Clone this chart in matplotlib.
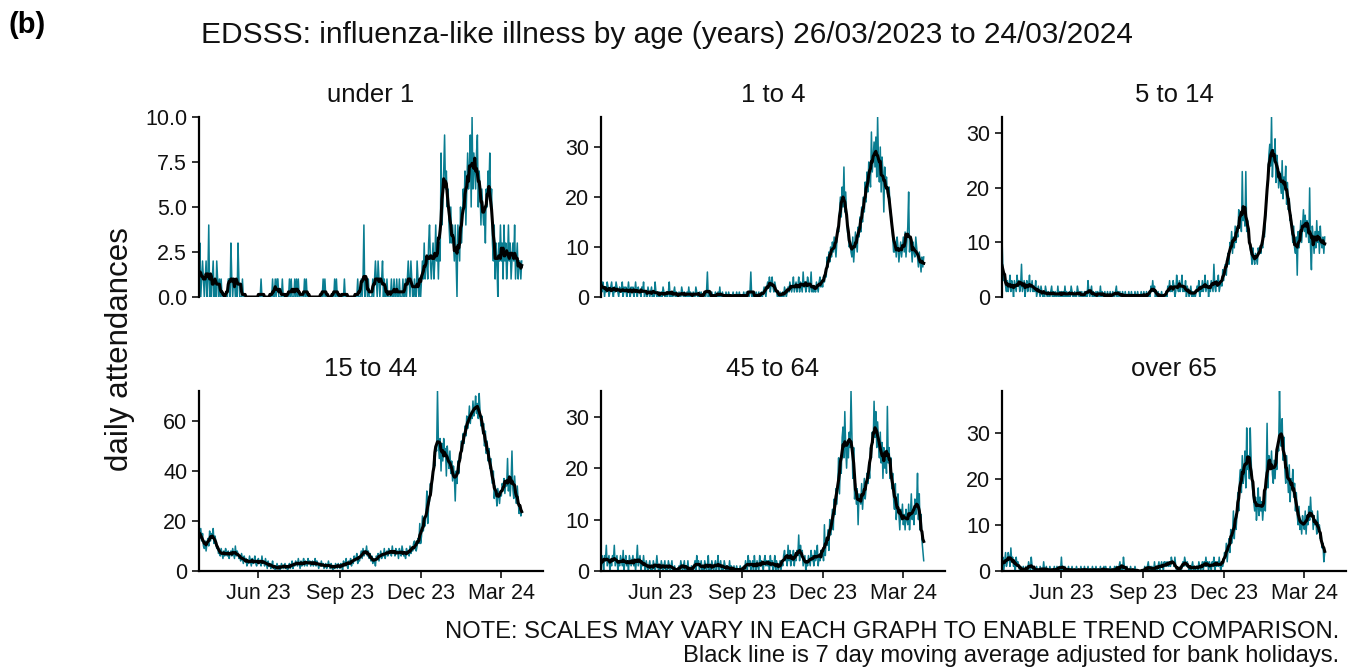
import matplotlib
matplotlib.use('Agg')
import matplotlib.pyplot as plt
import matplotlib.dates as mdates
from matplotlib.ticker import FormatStrFormatter
import pandas as pd

plt.rcParams['font.family'] = ['Liberation Sans', 'DejaVu Sans']

# daily counts 26/03/2023 .. 24/03/2024, one row per month (Mar part, Apr .. Feb, Mar part)
under_1 = (
    [1, 3, 0, 1, 2, 1]
    + [0, 1, 2, 0, 1, 4, 0, 1, 0, 1, 2, 0, 1, 0, 2, 1, 0, 1, 0, 1, 0, 0, 0, 0, 0, 0, 0, 1, 1, 0]
    + [3, 1, 0, 1, 1, 0, 1, 0, 3, 1, 0, 0, 0, 1, 0, 0, 0, 0, 0, 0, 0, 0, 0, 0, 0, 0, 0, 0, 0, 0, 0]
    + [0, 0, 0, 1, 0, 0, 0, 0, 0, 0, 0, 0, 0, 0, 0, 0, 1, 0, 0, 1, 0, 1, 1, 0, 0, 0, 0, 1, 0, 0]
    + [0, 0, 0, 0, 0, 1, 0, 1, 0, 0, 0, 1, 0, 1, 0, 1, 0, 0, 0, 0, 0, 0, 1, 0, 1, 0, 0, 0, 0, 0, 0]
    + [0, 0, 0, 0, 0, 0, 0, 0, 0, 0, 0, 0, 1, 0, 1, 0, 0, 0, 0, 0, 0, 0, 0, 0, 0, 1, 0, 1, 0, 0, 0]
    + [0, 0, 0, 0, 0, 1, 0, 0, 0, 0, 0, 0, 0, 0, 0, 0, 0, 0, 0, 0, 1, 0, 0, 0, 1, 0, 1, 4, 0, 1]
    + [1, 0, 1, 0, 0, 0, 0, 1, 0, 1, 2, 1, 0, 2, 1, 0, 1, 1, 2, 0, 1, 0, 0, 1, 0, 0, 0, 0, 1, 0, 0]
    + [1, 0, 0, 1, 0, 0, 1, 0, 0, 0, 1, 0, 0, 1, 0, 1, 2, 1, 0, 2, 1, 0, 0, 1, 0, 0, 2, 1, 0, 1]
    + [0, 1, 2, 1, 3, 1, 2, 2, 1, 3, 4, 2, 1, 2, 3, 1, 2, 4, 2, 3, 1, 3, 2, 8, 4, 5, 7, 9, 6, 7, 5]
    + [6, 4, 3, 5, 3, 4, 3, 2, 4, 2, 0, 4, 3, 2, 5, 3, 4, 6, 5, 7, 4, 6, 8, 6, 7, 9, 5, 10, 6, 8, 7]
    + [6, 8, 9, 5, 7, 6, 4, 6, 5, 4, 5, 3, 6, 5, 7, 6, 8, 5, 6, 3, 2, 4, 1, 3, 2, 0, 3, 2, 4]
    + [2, 3, 1, 4, 2, 3, 1, 2, 4, 2, 3, 1, 2, 3, 2, 4, 1, 2, 3, 1, 2, 2, 1, 2]
)
age_1_4 = (
    [4, 1, 3, 2, 0, 2]
    + [1, 3, 2, 0, 1, 2, 3, 1, 0, 2, 1, 3, 2, 1, 0, 2, 1, 1, 3, 0, 2, 1, 2, 0, 1, 3, 1, 0, 2, 1]
    + [2, 0, 1, 3, 1, 0, 2, 1, 1, 0, 2, 1, 3, 0, 1, 1, 0, 2, 1, 0, 1, 2, 0, 1, 0, 3, 1, 0, 1, 0, 1]
    + [0, 1, 0, 2, 1, 0, 0, 1, 0, 1, 3, 0, 1, 0, 0, 1, 2, 0, 1, 0, 0, 1, 0, 0, 2, 1, 0, 1, 0, 0]
    + [1, 0, 2, 0, 1, 0, 0, 1, 0, 0, 2, 1, 0, 0, 1, 0, 1, 0, 0, 0, 1, 0, 1, 5, 0, 1, 0, 0, 1, 0, 0]
    + [0, 1, 0, 0, 1, 0, 2, 0, 0, 1, 0, 0, 0, 1, 0, 0, 1, 0, 0, 0, 0, 1, 0, 0, 0, 1, 0, 0, 1, 0, 0]
    + [0, 0, 1, 0, 0, 1, 0, 0, 0, 1, 5, 0, 1, 0, 0, 0, 1, 0, 0, 1, 0, 0, 1, 0, 1, 2, 1, 0, 2, 3]
    + [2, 4, 1, 3, 4, 2, 1, 3, 2, 1, 0, 1, 0, 1, 0, 0, 1, 0, 2, 1, 0, 1, 2, 1, 3, 2, 1, 2, 4, 1, 2]
    + [3, 1, 2, 4, 1, 3, 2, 1, 5, 2, 3, 1, 2, 4, 3, 1, 2, 5, 1, 2, 1, 2, 1, 3, 2, 1, 3, 4, 2, 3]
    + [2, 4, 3, 5, 4, 8, 6, 9, 7, 10, 8, 11, 9, 12, 10, 8, 11, 14, 13, 17, 20, 16, 22, 18, 26, 17, 21, 16, 13, 12, 10]
    + [11, 9, 8, 12, 7, 10, 13, 11, 9, 14, 12, 16, 13, 18, 15, 20, 17, 23, 19, 25, 21, 27, 24, 22, 33, 25, 28, 31, 26, 32, 24]
    + [36, 27, 23, 30, 21, 28, 25, 17, 26, 22, 24, 21, 20, 22, 18, 17, 15, 12, 9, 9, 11, 8, 12, 10, 7, 9, 11, 8, 10]
    + [12, 9, 13, 8, 11, 14, 21, 9, 12, 10, 7, 11, 9, 8, 12, 10, 8, 6, 9, 7, 5, 8, 6, 8]
)
age_5_14 = (
    [11, 5, 3, 4, 2, 1]
    + [3, 1, 2, 4, 1, 3, 2, 0, 3, 2, 1, 4, 2, 3, 1, 2, 6, 1, 2, 3, 0, 2, 3, 1, 2, 4, 1, 2, 3, 1]
    + [2, 1, 3, 0, 1, 2, 1, 0, 2, 1, 0, 1, 0, 2, 1, 0, 1, 0, 0, 1, 2, 0, 1, 0, 1, 0, 0, 2, 0, 1, 0]
    + [1, 0, 1, 0, 2, 0, 1, 0, 0, 1, 0, 2, 1, 0, 0, 1, 0, 0, 2, 1, 0, 1, 0, 1, 0, 0, 1, 0, 1, 0]
    + [3, 1, 0, 1, 2, 0, 1, 0, 0, 1, 0, 1, 0, 0, 2, 0, 1, 0, 0, 1, 0, 0, 1, 0, 0, 1, 0, 0, 1, 0, 0]
    + [1, 2, 0, 1, 0, 1, 0, 0, 1, 0, 0, 1, 0, 0, 0, 1, 0, 0, 1, 0, 0, 0, 1, 0, 0, 1, 0, 0, 0, 1, 0]
    + [0, 1, 0, 0, 1, 0, 0, 1, 0, 2, 1, 3, 1, 2, 0, 1, 0, 1, 0, 0, 0, 1, 0, 0, 0, 0, 1, 0, 2, 1]
    + [3, 1, 2, 1, 3, 2, 0, 1, 4, 2, 1, 3, 1, 2, 4, 1, 2, 1, 3, 0, 2, 1, 0, 1, 2, 0, 1, 0, 1, 0, 1]
    + [2, 1, 3, 0, 2, 1, 3, 1, 2, 4, 1, 2, 3, 0, 2, 1, 3, 2, 1, 6, 2, 1, 3, 2, 4, 1, 2, 3, 2, 5]
    + [3, 5, 6, 4, 7, 8, 6, 10, 9, 12, 8, 11, 9, 13, 10, 12, 11, 16, 13, 15, 12, 23, 14, 16, 13, 23, 12, 14, 11, 10, 9]
    + [8, 6, 9, 7, 6, 8, 7, 6, 9, 8, 9, 8, 10, 9, 12, 11, 14, 17, 20, 22, 26, 28, 24, 33, 22, 27, 25, 29, 21, 26, 24]
    + [20, 23, 21, 19, 25, 18, 22, 20, 24, 17, 21, 16, 18, 14, 15, 12, 10, 13, 9, 8, 11, 4, 12, 9, 11, 14, 10, 13, 16]
    + [12, 15, 11, 14, 13, 10, 20, 9, 5, 13, 11, 8, 12, 9, 14, 10, 12, 8, 13, 10, 9, 11, 8, 11]
)
age_15_44 = (
    [18, 13, 17, 12, 15, 10]
    + [9, 12, 8, 11, 13, 10, 16, 12, 15, 13, 17, 11, 14, 12, 9, 10, 7, 8, 6, 9, 7, 5, 8, 6, 9, 7, 6, 8, 5, 7]
    + [8, 6, 9, 7, 5, 10, 6, 8, 7, 5, 6, 4, 7, 5, 3, 6, 4, 5, 2, 4, 3, 6, 4, 2, 5, 3, 4, 6, 3, 2, 4]
    + [5, 3, 4, 2, 6, 3, 4, 2, 5, 3, 1, 4, 2, 3, 1, 2, 4, 1, 2, 0, 1, 3, 1, 2, 0, 1, 3, 2, 1, 2]
    + [3, 1, 2, 0, 2, 3, 1, 2, 4, 1, 3, 2, 4, 3, 2, 5, 3, 1, 4, 2, 3, 5, 2, 4, 3, 2, 5, 3, 4, 2, 3]
    + [4, 2, 3, 5, 2, 4, 3, 1, 3, 2, 4, 2, 3, 1, 2, 3, 1, 2, 4, 2, 1, 3, 2, 0, 2, 1, 3, 2, 1, 3, 2]
    + [1, 3, 2, 0, 4, 2, 3, 5, 2, 1, 4, 3, 5, 2, 4, 3, 6, 4, 5, 7, 3, 5, 4, 6, 8, 5, 9, 6, 8, 7]
    + [10, 6, 8, 5, 7, 4, 6, 3, 5, 4, 2, 6, 5, 7, 4, 6, 8, 5, 7, 6, 9, 5, 7, 8, 6, 9, 7, 8, 6, 10, 7]
    + [8, 6, 9, 7, 8, 5, 9, 7, 6, 10, 8, 6, 7, 5, 9, 7, 8, 6, 10, 7, 9, 8, 11, 12, 9, 8, 10, 13, 11, 19]
    + [11, 14, 22, 16, 20, 18, 24, 32, 19, 26, 28, 35, 31, 36, 38, 46, 42, 50, 48, 72, 52, 45, 53, 40, 51, 44, 53, 47, 49, 38, 50]
    + [45, 41, 48, 39, 44, 36, 42, 38, 28, 40, 35, 44, 39, 47, 45, 52, 48, 55, 51, 58, 54, 62, 57, 60, 66, 59, 63, 61, 68, 62, 65]
    + [70, 63, 67, 61, 71, 64, 58, 62, 55, 59, 50, 56, 47, 52, 44, 49, 41, 45, 38, 35, 40, 29, 34, 31, 26, 33, 30, 27, 32]
    + [30, 35, 33, 37, 31, 36, 34, 45, 32, 38, 30, 36, 48, 33, 29, 38, 31, 27, 34, 28, 23, 26, 22, 24]
)
age_45_64 = (
    [1, 3, 2, 0, 3, 2]
    + [5, 1, 2, 3, 0, 2, 1, 3, 2, 5, 1, 2, 3, 0, 2, 1, 3, 2, 1, 4, 0, 2, 3, 1, 2, 0, 3, 2, 1, 2]
    + [3, 1, 2, 0, 2, 5, 1, 2, 3, 0, 2, 1, 3, 1, 0, 2, 1, 0, 1, 2, 0, 1, 0, 2, 1, 0, 1, 3, 1, 0, 1]
    + [0, 2, 1, 0, 1, 2, 0, 1, 0, 2, 1, 0, 1, 2, 0, 0, 1, 0, 0, 0, 0, 1, 0, 2, 1, 0, 1, 2, 0, 1]
    + [0, 2, 0, 0, 0, 1, 0, 0, 1, 2, 0, 3, 1, 2, 0, 1, 2, 0, 1, 0, 2, 1, 0, 1, 3, 0, 1, 0, 2, 1, 0]
    + [1, 2, 0, 1, 3, 0, 1, 2, 0, 1, 0, 2, 1, 0, 1, 0, 0, 2, 0, 1, 0, 0, 1, 0, 0, 1, 0, 0, 0, 1, 0]
    + [0, 0, 1, 0, 2, 1, 0, 3, 1, 2, 0, 1, 2, 0, 3, 1, 0, 2, 1, 0, 3, 1, 2, 1, 0, 2, 3, 1, 2, 1]
    + [2, 0, 3, 1, 2, 0, 1, 3, 0, 2, 1, 0, 1, 2, 0, 2, 1, 3, 4, 2, 3, 1, 5, 2, 4, 1, 3, 2, 4, 1, 3]
    + [2, 4, 3, 7, 2, 5, 3, 4, 1, 2, 3, 0, 2, 1, 3, 2, 1, 4, 2, 3, 1, 4, 2, 3, 5, 1, 3, 2, 4, 3]
    + [4, 2, 9, 3, 6, 5, 8, 4, 10, 7, 9, 12, 8, 14, 11, 16, 13, 17, 22, 15, 22, 19, 26, 28, 22, 31, 24, 20, 25, 22, 27]
    + [24, 35, 26, 18, 24, 14, 17, 13, 16, 9, 15, 14, 13, 17, 12, 15, 18, 14, 16, 19, 17, 21, 18, 24, 22, 27, 25, 33, 26, 31, 24]
    + [29, 25, 22, 27, 21, 25, 18, 24, 20, 23, 19, 32, 21, 24, 18, 22, 16, 19, 14, 12, 17, 10, 13, 15, 11, 8, 12, 10, 13]
    + [9, 11, 8, 12, 10, 9, 13, 8, 11, 15, 10, 12, 9, 14, 11, 13, 19, 10, 15, 8, 11, 6, 4, 2]
)
over_65 = (
    [1, 3, 0, 2, 4, 1]
    + [2, 4, 3, 1, 5, 2, 3, 1, 2, 0, 3, 1, 2, 1, 0, 1, 0, 0, 1, 0, 0, 1, 0, 0, 2, 1, 0, 3, 1, 0]
    + [1, 0, 0, 1, 0, 0, 0, 1, 0, 0, 0, 2, 0, 0, 1, 0, 0, 0, 1, 0, 0, 0, 0, 1, 0, 0, 1, 0, 0, 1, 0]
    + [3, 0, 1, 0, 1, 0, 0, 0, 1, 0, 0, 0, 1, 0, 0, 0, 0, 1, 0, 0, 0, 0, 1, 0, 0, 0, 1, 0, 0, 0]
    + [1, 0, 0, 0, 0, 1, 0, 0, 0, 1, 0, 0, 0, 0, 1, 0, 0, 0, 1, 0, 1, 0, 0, 0, 0, 1, 0, 0, 0, 0, 1]
    + [0, 1, 0, 0, 1, 2, 0, 1, 0, 3, 1, 0, 0, 1, 0, 0, 0, 1, 0, 0, 0, 0, 1, 0, 0, 0, 0, 0, 0, 0, 0]
    + [0, 0, 1, 0, 0, 1, 2, 0, 1, 0, 1, 0, 0, 2, 0, 1, 0, 1, 2, 0, 1, 2, 1, 0, 2, 1, 2, 1, 2, 1]
    + [2, 1, 3, 2, 2, 1, 3, 1, 0, 0, 0, 0, 1, 0, 1, 2, 1, 3, 2, 1, 2, 1, 0, 1, 0, 1, 2, 0, 1, 0, 1]
    + [1, 0, 2, 1, 0, 1, 2, 0, 2, 1, 3, 1, 2, 0, 2, 1, 0, 2, 1, 3, 0, 2, 1, 2, 1, 3, 1, 0, 2, 1]
    + [2, 4, 3, 6, 2, 5, 7, 4, 9, 6, 8, 13, 7, 11, 9, 12, 17, 13, 20, 22, 17, 25, 19, 21, 26, 18, 31, 22, 25, 20, 31]
    + [24, 19, 17, 15, 13, 16, 11, 14, 18, 12, 16, 13, 15, 11, 14, 17, 13, 20, 32, 18, 25, 24, 22, 26, 21, 19, 24, 20, 25, 22, 28]
    + [26, 39, 30, 27, 33, 24, 29, 22, 19, 25, 21, 17, 23, 15, 20, 18, 22, 16, 19, 13, 17, 12, 10, 14, 9, 11, 8, 12, 10]
    + [9, 13, 8, 12, 10, 14, 11, 16, 12, 13, 9, 12, 10, 11, 8, 13, 9, 10, 7, 8, 5, 6, 2, 4]
)

panel_names = ['under 1', '1 to 4', '5 to 14', '15 to 44', '45 to 64', 'over 65']
panel_values = [under_1, age_1_4, age_5_14, age_15_44, age_45_64, over_65]
panel_yticks = [[0, 2.5, 5, 7.5, 10], [0, 10, 20, 30], [0, 10, 20, 30],
                [0, 20, 40, 60], [0, 10, 20, 30], [0, 10, 20, 30]]
x_ticks = ['2023-06-01', '2023-09-01', '2023-12-01', '2024-03-01']

dates = pd.date_range('2023-03-26', '2024-03-24', freq='D')
TEAL = '#0A7D91'
INK = '#111111'

W, H = 1365, 669
fig = plt.figure(figsize=(W / 100, H / 100), dpi=100)

lefts = [199, 601, 1002]
tops = [117, 391]
pw, ph = 344, 180

for i, (name, vals, yt) in enumerate(zip(panel_names, panel_values, panel_yticks)):
    r, c = divmod(i, 3)
    ax = fig.add_axes([lefts[c] / W, 1 - (tops[r] + ph) / H, pw / W, ph / H])
    s = pd.Series(vals, index=dates)
    ma = s.rolling(7, center=True, min_periods=4).mean()
    ax.plot(dates, s.values, color=TEAL, lw=1.1)
    ax.plot(dates, ma.values, color='black', lw=2.2)

    ax.set_xlim(dates[0], dates[0] + pd.Timedelta(days=388))
    ax.set_ylim(0, max(vals))
    ax.set_yticks(yt)
    if i == 0:
        ax.yaxis.set_major_formatter(FormatStrFormatter('%.1f'))

    for sp in ['top', 'right']:
        ax.spines[sp].set_visible(False)
    ax.spines['left'].set_linewidth(1.6)
    ax.spines['bottom'].set_linewidth(1.6)
    ax.tick_params(axis='both', length=5, width=1.4, color='#333333',
                   labelsize=15.5, labelcolor=INK, pad=3.5)

    if r == 0:
        ax.spines['bottom'].set_visible(False)
        ax.set_xticks([])
    else:
        ax.set_xticks(pd.to_datetime(x_ticks))
        ax.xaxis.set_major_formatter(mdates.DateFormatter('%b %y'))

    ax.set_title(name, fontsize=18.5, color=INK, pad=11)

fig.text(0.006, 1 - 25 / H, '(b)', fontsize=21, fontweight='bold', va='center', ha='left')
fig.text(667 / W, 1 - 35 / H,
         'EDSSS: influenza-like illness by age (years) 26/03/2023 to 24/03/2024',
         fontsize=21.5, ha='center', va='center', color=INK)
fig.text(120 / W, 1 - 349 / H, 'daily attendances', fontsize=22.5, rotation=90,
         ha='center', va='center', color=INK)
fig.text(1339 / W, 1 - 632 / H,
         'NOTE: SCALES MAY VARY IN EACH GRAPH TO ENABLE TREND COMPARISON.',
         fontsize=17.1, ha='right', va='center', color=INK)
fig.text(1339 / W, 1 - 656 / H,
         'Black line is 7 day moving average adjusted for bank holidays.',
         fontsize=17.1, ha='right', va='center', color=INK)

fig.savefig('out.png', dpi=100)
